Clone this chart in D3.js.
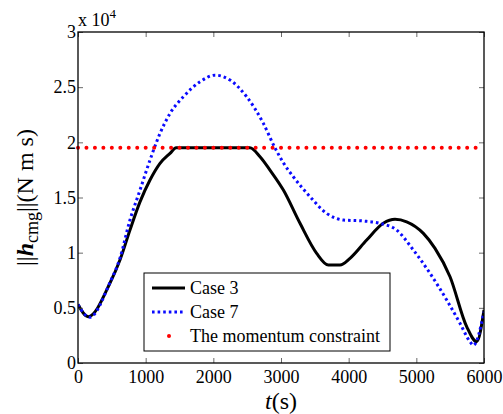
<!DOCTYPE html>
<html>
<head>
<meta charset="utf-8">
<script src="https://cdn.jsdelivr.net/npm/d3@7"></script>
<style>
  body { margin: 0; background: #fff; }
</style>
</head>
<body>
<div id="chart"></div>
<script>
// data (t in s, value in N m s)
var case3T = [0, 150, 473, 620, 768, 916, 1064, 1212, 1360, 1450, 2540, 2690, 2837, 3035, 3281, 3527, 3700, 3872, 4020, 4266, 4512, 4685, 4857, 5104, 5276, 5498, 5744, 5892, 6000];
var case3V = [5300, 4200, 7250, 9330, 12050, 14600, 16580, 18090, 19000, 19500, 19500, 18690, 17480, 15670, 12660, 9940, 8880, 8880, 9485, 11140, 12660, 13020, 12800, 11750, 10390, 7820, 3290, 1930, 4800];

var case7T = [0, 170, 473, 620, 768, 916, 1064, 1212, 1360, 1557, 1803, 2025, 2247, 2493, 2739, 2911, 3050, 3182, 3429, 3675, 3921, 4217, 4463, 4709, 4956, 5202, 5449, 5645, 5793, 5842, 6000];
var case7V = [5300, 4150, 7300, 9500, 12960, 15670, 18390, 20810, 22620, 24130, 25490, 26090, 25640, 24130, 21720, 19500, 18000, 16880, 15070, 13560, 12960, 12870, 12660, 12050, 10240, 8130, 5710, 3600, 1930, 1600, 4650];

var constraintT = [0, 6000];
var constraintV = [19500, 19500];

var xTicks = [0, 1000, 2000, 3000, 4000, 5000, 6000];
var yTicks = [0, 5000, 10000, 15000, 20000, 25000, 30000];

var legendNames = ["Case 3", "Case 7", "The momentum constraint"];

var W = 503, H = 414;
var margin = { left: 78, right: 19, top: 32, bottom: 51 };
var FONT = "Liberation Serif";

var svg = d3.select("#chart").append("svg")
    .attr("width", W)
    .attr("height", H)
    .attr("font-family", FONT);

svg.append("rect").attr("width", W).attr("height", H).attr("fill", "#fff");

var x = d3.scaleLinear().domain([0, 6000]).range([margin.left, W - margin.right]);
var y = d3.scaleLinear().domain([0, 30000]).range([H - margin.bottom, margin.top]);

function zip(ts, vs) { return ts.map(function(t, i){ return { t: t, v: vs[i] }; }); }

var line = d3.line()
    .x(function(d){ return x(d.t); })
    .y(function(d){ return y(d.v); })
    .curve(d3.curveMonotoneX);

svg.append("clipPath").attr("id", "clip")
    .append("rect")
    .attr("x", x(0)).attr("y", y(30000))
    .attr("width", x(6000) - x(0)).attr("height", y(0) - y(30000));

var plot = svg.append("g").attr("clip-path", "url(#clip)");

// black solid
plot.append("path")
    .datum(zip(case3T, case3V))
    .attr("d", line)
    .attr("fill", "none")
    .attr("stroke", "#000")
    .attr("stroke-width", 3)
    .attr("stroke-linejoin", "round");

// blue dotted
plot.append("path")
    .datum(zip(case7T, case7V))
    .attr("d", line)
    .attr("fill", "none")
    .attr("stroke", "#0a0aff")
    .attr("stroke-width", 3)
    .attr("stroke-dasharray", "2.6 3");

// red constraint dots
svg.append("path")
    .datum(zip(constraintT, constraintV))
    .attr("d", d3.line().x(function(d){ return x(d.t); }).y(function(d){ return y(d.v); }))
    .attr("fill", "none")
    .attr("stroke", "#ff0000")
    .attr("stroke-width", 4)
    .attr("stroke-linecap", "round")
    .attr("stroke-dasharray", "0 8.46");

// axes (inward ticks, box)
var tickLen = 5;
var axG = svg.append("g");

function styleTicks(g){
    g.select(".domain").remove();
    g.selectAll("line").attr("stroke", "#444").attr("stroke-width", 0.8);
    g.attr("font-family", FONT);
    g.selectAll("text").attr("font-size", 18).attr("fill", "#000").attr("font-family", FONT);
}

axG.append("g")
    .attr("transform", "translate(0," + y(0) + ")")
    .call(d3.axisBottom(x).tickValues(xTicks).tickSize(-tickLen).tickPadding(5).tickFormat(d3.format("d")))
    .call(styleTicks)
    .call(function(g){ g.selectAll("text").attr("dy", "0.85em"); });

axG.append("g")
    .attr("transform", "translate(0," + y(30000) + ")")
    .call(d3.axisTop(x).tickValues(xTicks).tickSize(-tickLen).tickFormat(""))
    .call(styleTicks);

axG.append("g")
    .attr("transform", "translate(" + x(0) + ",0)")
    .call(d3.axisLeft(y).tickValues(yTicks).tickSize(-tickLen).tickPadding(2)
        .tickFormat(function(d){ return d3.format("~g")(d / 10000); }))
    .call(styleTicks);

axG.append("g")
    .attr("transform", "translate(" + x(6000) + ",0)")
    .call(d3.axisRight(y).tickValues(yTicks).tickSize(-tickLen).tickFormat(""))
    .call(styleTicks);

svg.append("rect")
    .attr("x", x(0)).attr("y", y(30000))
    .attr("width", x(6000) - x(0)).attr("height", y(0) - y(30000))
    .attr("fill", "none")
    .attr("stroke", "#000")
    .attr("stroke-width", 1.3);

// exponent label
var expo = svg.append("text")
    .attr("x", x(0))
    .attr("y", y(30000) - 6)
    .attr("font-size", 18);
expo.append("tspan").text("x 10");
expo.append("tspan").attr("font-size", 13).attr("dy", -8).text("4");

// x title
var xt = svg.append("text")
    .attr("x", (x(0) + x(6000)) / 2)
    .attr("y", 409)
    .attr("text-anchor", "middle")
    .attr("font-size", 24);
xt.append("tspan").attr("font-style", "italic").text("t");
xt.append("tspan").text("(s)");

// y title
var yt = svg.append("text")
    .attr("transform", "translate(33," + ((y(0) + y(30000)) / 2) + ") rotate(-90)")
    .attr("text-anchor", "middle")
    .attr("font-size", 24);
yt.append("tspan").text("||");
yt.append("tspan").attr("font-weight", "bold").attr("font-style", "italic").text("h");
yt.append("tspan").attr("font-size", 18).attr("dy", 5).text("cmg");
yt.append("tspan").attr("dy", -5).text("||(N m s)");

// legend
var lg = svg.append("g");
lg.append("rect")
    .attr("x", 144).attr("y", 273)
    .attr("width", 246).attr("height", 78)
    .attr("fill", "#fff")
    .attr("stroke", "#000")
    .attr("stroke-width", 1);

var rows = lg.selectAll("g.row").data(legendNames).enter().append("g")
    .attr("class", "row")
    .attr("transform", function(d, i){ return "translate(0," + (288 + i * 24) + ")"; });

rows.append("text")
    .attr("x", 190)
    .attr("dy", "0.35em")
    .attr("font-size", 18)
    .text(function(d){ return d; });

rows.filter(function(d, i){ return i == 0; }).append("line")
    .attr("x1", 152).attr("x2", 185)
    .attr("stroke", "#000").attr("stroke-width", 3);

rows.filter(function(d, i){ return i == 1; }).append("line")
    .attr("x1", 152).attr("x2", 185)
    .attr("stroke", "#0a0aff").attr("stroke-width", 3)
    .attr("stroke-dasharray", "2.6 3");

rows.filter(function(d, i){ return i == 2; }).append("circle")
    .attr("cx", 169).attr("r", 2)
    .attr("fill", "#ff0000");

svg.selectAll("text").attr("font-family", FONT);
</script>
</body>
</html>
